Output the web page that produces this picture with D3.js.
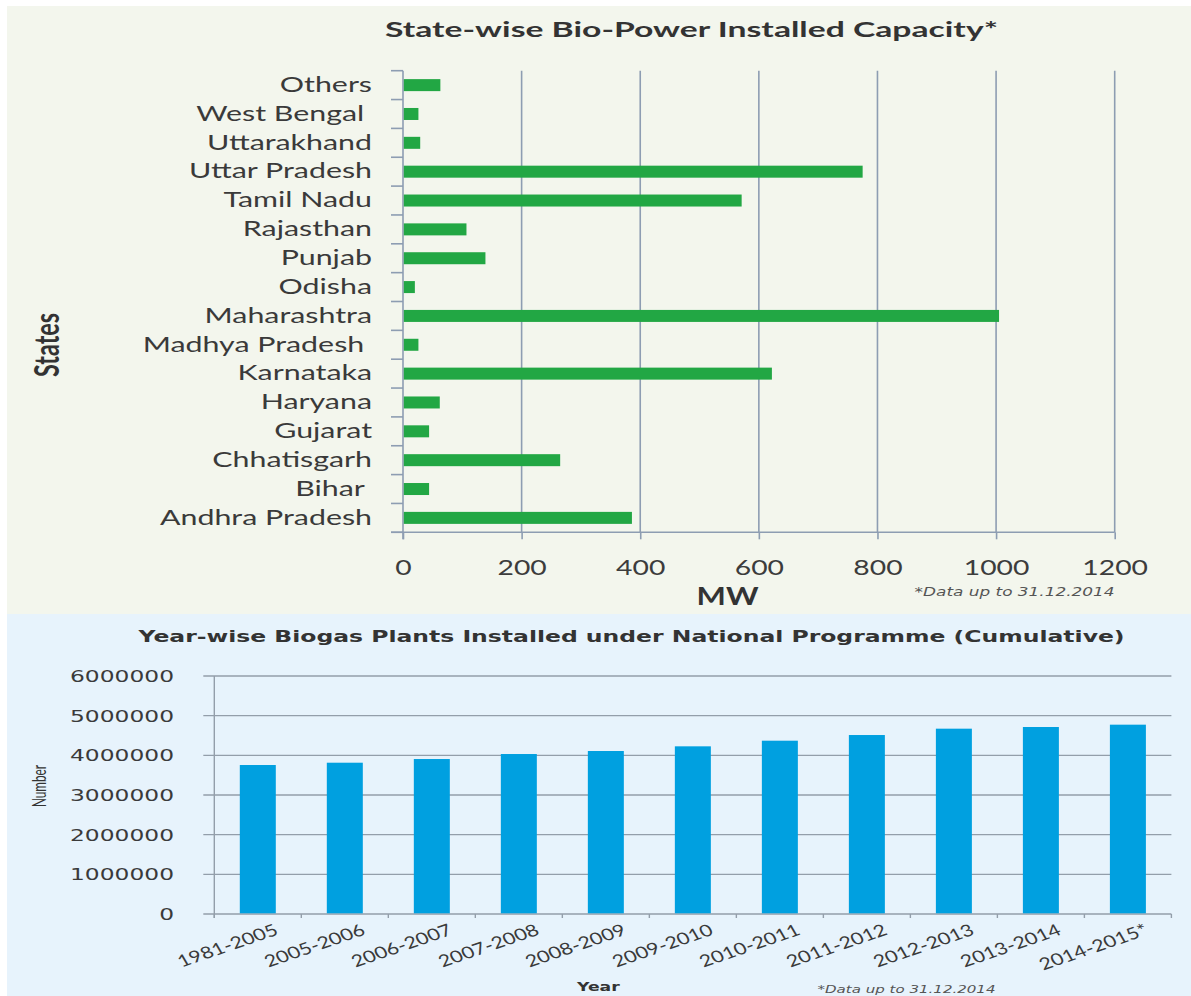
<!DOCTYPE html>
<html>
<head>
<meta charset="utf-8">
<script src="https://cdn.jsdelivr.net/npm/d3@7"></script>
<style>
  html, body { margin: 0; padding: 0; background: #ffffff; }
  svg { display: block; }
</style>
</head>
<body>
<svg id="chart" width="1191" height="996"></svg>
<script>
// ---- State-wise bio-power installed capacity (MW), listed top to bottom ----
const states = ["Others", "West Bengal ", "Uttarakhand", "Uttar Pradesh", "Tamil Nadu",
  "Rajasthan", "Punjab", "Odisha", "Maharashtra", "Madhya Pradesh ", "Karnataka",
  "Haryana", "Gujarat", "Chhatisgarh", "Bihar ", "Andhra Pradesh"];
const capacityMW = [63, 26, 29, 775, 571, 107, 139, 20, 1005, 26, 622, 62, 44, 265, 44, 386];
const powerTicks = [0, 200, 400, 600, 800, 1000, 1200];

// ---- Cumulative biogas plants installed under the national programme ----
const years = ["1981-2005", "2005-2006", "2006-2007", "2007-2008", "2008-2009", "2009-2010",
  "2010-2011", "2011-2012", "2012-2013", "2013-2014", "2014-2015*"];
const biogasPlants = [3756000, 3814000, 3907000, 4033000, 4109000, 4227000,
  4369000, 4512000, 4672000, 4714000, 4773000];
const plantTicks = [0, 1000000, 2000000, 3000000, 4000000, 5000000, 6000000];

const W = 1191, H = 996;

// Widen a text selection horizontally by factor k (keeps its anchor)
function stretch(sel, k) {
  sel.each(function () {
    const w = this.getComputedTextLength();
    d3.select(this).attr("textLength", w * k).attr("lengthAdjust", "spacingAndGlyphs");
  });
}
// Factor that brings the given text node to the target width
function factor(node, target) {
  return target / node.getComputedTextLength();
}

function draw() {
  const svg = d3.select("#chart");

  // Panel backgrounds
  svg.append("rect").attr("x", 7).attr("y", 6).attr("width", W - 7).attr("height", 608)
    .attr("fill", "#f3f6ed");
  svg.append("rect").attr("x", 7).attr("y", 614).attr("width", W - 7).attr("height", H - 614)
    .attr("fill", "#e7f3fc");

  // ================= Top: horizontal bar chart =================
  const axisCol = "#8d9db2";
  const x1 = d3.scaleLinear().domain([0, 1200]).range([403, 1114.7]);
  const y1 = d3.scaleBand().domain(states).range([70.7, 532.3]);
  const barH = 12;
  const g1 = svg.append("g");

  // vertical gridlines
  g1.selectAll("line.grid").data(powerTicks.slice(1)).join("line")
    .attr("class", "grid")
    .attr("x1", d => x1(d)).attr("x2", d => x1(d))
    .attr("y1", y1.range()[0]).attr("y2", y1.range()[1])
    .attr("stroke", axisCol).attr("stroke-width", 1.6);

  // category axis line and boundary ticks
  const bounds = states.map(s => y1(s)).concat([y1.range()[1]]);
  g1.selectAll("line.btick").data(bounds).join("line")
    .attr("class", "btick")
    .attr("x1", x1(0) - 12).attr("x2", x1(0))
    .attr("y1", d => d).attr("y2", d => d)
    .attr("stroke", axisCol).attr("stroke-width", 1.6);
  g1.append("line")
    .attr("x1", x1(0)).attr("x2", x1(0))
    .attr("y1", y1.range()[0]).attr("y2", y1.range()[1] + 7)
    .attr("stroke", axisCol).attr("stroke-width", 1.6);

  // bars
  g1.selectAll("rect.bar").data(states).join("rect")
    .attr("class", "bar")
    .attr("x", x1(0) + 0.8)
    .attr("y", d => y1(d) + (y1.bandwidth() - barH) / 2)
    .attr("width", (d, i) => x1(capacityMW[i]) - x1(0) - 0.8)
    .attr("height", barH)
    .attr("fill", "#22a744");

  // value axis
  const xAx = g1.append("g").attr("transform", `translate(0,${y1.range()[1]})`)
    .call(d3.axisBottom(x1).tickValues(powerTicks).tickSize(7).tickSizeOuter(0)
      .tickFormat(d3.format("d")));
  xAx.select(".domain").remove();
  xAx.selectAll(".tick line").attr("stroke", axisCol).attr("stroke-width", 1.6);
  xAx.selectAll(".tick text")
    .attr("y", 42.7).attr("dy", null)
    .attr("font-family", "Lato").attr("font-size", 21).attr("fill", "#3c3c3c");
  g1.append("line")
    .attr("x1", x1(0) - 12).attr("x2", x1(1200))
    .attr("y1", y1.range()[1]).attr("y2", y1.range()[1])
    .attr("stroke", axisCol).attr("stroke-width", 1.6);
  const xt = xAx.selectAll(".tick text");
  stretch(xt, factor(xt.filter(d => d === 1000).node(), 65.7));

  // category labels
  const yAx = g1.append("g").attr("transform", `translate(${x1(0)},0)`)
    .call(d3.axisLeft(y1).tickSize(0).tickPadding(31)
      .tickFormat(d => d.replace(/ $/, "\u00a0")));
  yAx.select(".domain").remove();
  const yt = yAx.selectAll(".tick text")
    .attr("font-family", "Lato").attr("font-size", 20.5).attr("fill", "#3a3a3a")
    .attr("dy", "0.33em");
  stretch(yt, factor(yt.filter(d => d === "Andhra Pradesh").node(), 212));

  // title
  svg.append("text").attr("x", 691.5).attr("y", 37)
    .attr("text-anchor", "middle").attr("font-family", "Lato").attr("font-weight", 700)
    .attr("font-size", 21).attr("fill", "#333333")
    .attr("textLength", 613).attr("lengthAdjust", "spacingAndGlyphs")
    .text("State-wise Bio-Power Installed Capacity*");

  // axis titles
  svg.append("text").attr("x", 727.6).attr("y", 605)
    .attr("text-anchor", "middle").attr("font-family", "Lato").attr("font-weight", 700)
    .attr("font-size", 24).attr("fill", "#333333")
    .attr("textLength", 62).attr("lengthAdjust", "spacingAndGlyphs")
    .text("MW");
  svg.append("text")
    .attr("transform", "translate(59,345) rotate(-90)")
    .attr("text-anchor", "middle").attr("font-family", "Lato").attr("font-weight", 700)
    .attr("font-size", 34).attr("fill", "#333333")
    .attr("textLength", 64).attr("lengthAdjust", "spacingAndGlyphs")
    .text("States");

  // footnote
  svg.append("text").attr("x", 1114.6).attr("y", 596)
    .attr("text-anchor", "end").attr("font-family", "DejaVu Sans").attr("font-style", "italic")
    .attr("font-size", 12).attr("fill", "#555555")
    .attr("textLength", 200).attr("lengthAdjust", "spacingAndGlyphs")
    .text("*Data up to 31.12.2014");

  // ================= Bottom: vertical column chart =================
  const gridCol = "#939eaa";
  const x2 = d3.scaleBand().domain(years).range([214.3, 1171.4]);
  const y2 = d3.scaleLinear().domain([0, 6000000]).range([914, 676]);
  const barW = 36;
  const g2 = svg.append("g");

  // horizontal gridlines
  g2.selectAll("line.grid").data(plantTicks.slice(1)).join("line")
    .attr("class", "grid")
    .attr("x1", x2.range()[0] - 11).attr("x2", x2.range()[1])
    .attr("y1", d => y2(d)).attr("y2", d => y2(d))
    .attr("stroke", gridCol).attr("stroke-width", 1.4);

  // axes lines
  g2.append("line").attr("x1", x2.range()[0]).attr("x2", x2.range()[0])
    .attr("y1", y2(6000000)).attr("y2", y2(0) + 4)
    .attr("stroke", gridCol).attr("stroke-width", 1.4);
  g2.append("line").attr("x1", x2.range()[0] - 11).attr("x2", x2.range()[1])
    .attr("y1", y2(0)).attr("y2", y2(0))
    .attr("stroke", gridCol).attr("stroke-width", 1.4);
  const xb = years.map(d => x2(d)).concat([x2.range()[1]]);
  g2.selectAll("line.xtick").data(xb).join("line")
    .attr("class", "xtick")
    .attr("x1", d => d).attr("x2", d => d)
    .attr("y1", y2(0)).attr("y2", y2(0) + 4)
    .attr("stroke", gridCol).attr("stroke-width", 1.4);

  // bars
  g2.selectAll("rect.bar").data(years).join("rect")
    .attr("class", "bar")
    .attr("x", d => x2(d) + (x2.bandwidth() - barW) / 2)
    .attr("y", (d, i) => y2(biogasPlants[i]))
    .attr("width", barW)
    .attr("height", (d, i) => y2(0) - y2(biogasPlants[i]) - 0.7)
    .attr("fill", "#00a0e0");

  // value axis labels
  const yAx2 = g2.append("g").attr("transform", `translate(${x2.range()[0]},0)`)
    .call(d3.axisLeft(y2).tickValues(plantTicks).tickSize(0).tickPadding(40.3)
      .tickFormat(d3.format("d")));
  yAx2.select(".domain").remove();
  const yt2 = yAx2.selectAll(".tick text")
    .attr("font-family", "DejaVu Sans").attr("font-size", 15).attr("fill", "#3a3a3a")
    .attr("dy", "0.36em");
  stretch(yt2, factor(yt2.filter(d => d === 6000000).node(), 104));

  // year labels, slanted
  g2.selectAll("text.xlab").data(years).join("text")
    .attr("class", "xlab")
    .attr("transform", d => `translate(${x2(d) + x2.bandwidth() / 2 + 21.8},934) scale(1.3,1) rotate(-24)`)
    .attr("text-anchor", "end").attr("font-family", "Lato").attr("font-size", 16.5)
    .attr("fill", "#3a3a3a")
    .text(d => d);

  // title
  svg.append("text").attr("x", 631.6).attr("y", 641.7)
    .attr("text-anchor", "middle").attr("font-family", "DejaVu Sans").attr("font-weight", 700)
    .attr("font-size", 16).attr("fill", "#333333")
    .attr("textLength", 986).attr("lengthAdjust", "spacingAndGlyphs")
    .text("Year-wise Biogas Plants Installed under National Programme (Cumulative)");

  // axis titles
  svg.append("text").attr("x", 577).attr("y", 991)
    .attr("font-family", "DejaVu Sans").attr("font-weight", 700)
    .attr("font-size", 12.5).attr("fill", "#333333")
    .attr("textLength", 42.7).attr("lengthAdjust", "spacingAndGlyphs")
    .text("Year");
  svg.append("text")
    .attr("transform", "translate(46,786) rotate(-90)")
    .attr("text-anchor", "middle").attr("font-family", "Lato")
    .attr("font-size", 20).attr("fill", "#333333")
    .attr("textLength", 42).attr("lengthAdjust", "spacingAndGlyphs")
    .text("Number");

  // footnote
  svg.append("text").attr("x", 817.5).attr("y", 993)
    .attr("font-family", "DejaVu Sans").attr("font-style", "italic")
    .attr("font-size", 11).attr("fill", "#555555")
    .attr("textLength", 178).attr("lengthAdjust", "spacingAndGlyphs")
    .text("*Data up to 31.12.2014");
}

if (document.fonts && document.fonts.ready) {
  document.fonts.ready.then(draw);
} else {
  draw();
}
</script>
</body>
</html>
